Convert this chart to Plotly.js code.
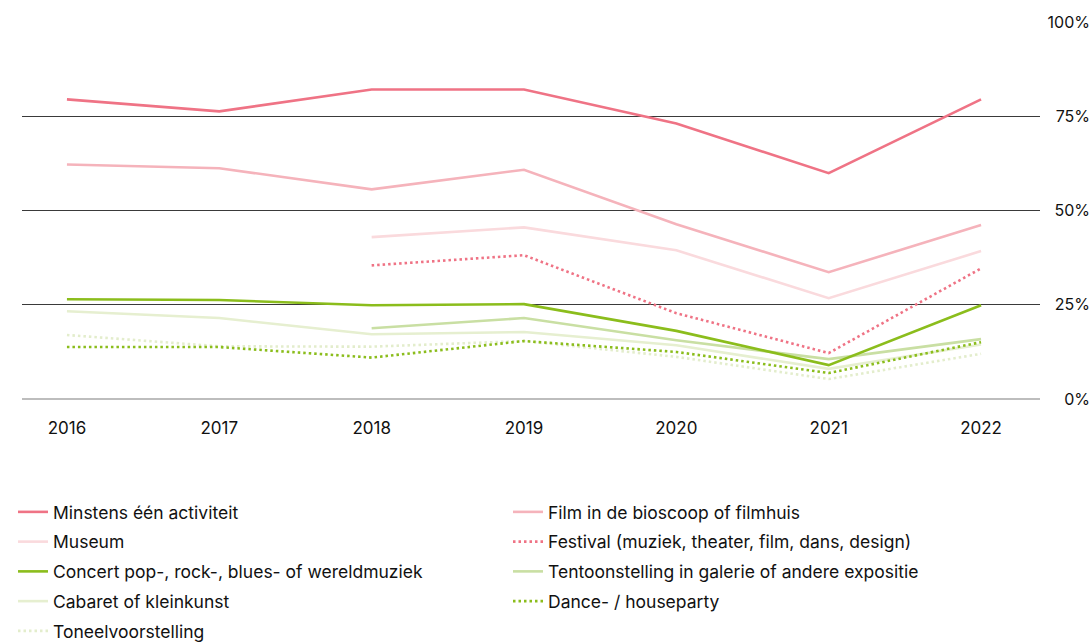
<!DOCTYPE html>
<html><head><meta charset="utf-8">
<script src="https://cdn.plot.ly/plotly-3.0.1.min.js"></script>
<style>html,body{margin:0;padding:0;background:#fff}#chart{width:1090px;height:644px}</style>
</head><body><div id="chart"></div>
<script>
const years = [2016, 2017, 2018, 2019, 2020, 2021, 2022];
const minstens = [79.6, 76.4, 82.2, 82.2, 73.2, 60.0, 79.6];
const film = [62.3, 61.3, 55.7, 60.9, 46.4, 33.7, 46.2];
const museum = [null, null, 43.0, 45.6, 39.5, 26.8, 39.3];
const festival = [null, null, 35.5, 38.2, 22.8, 12.2, 34.7];
const concert = [26.5, 26.3, 24.9, 25.2, 18.1, 9.0, 24.9];
const tentoon = [null, null, 18.8, 21.5, 15.6, 10.6, 15.9];
const cabaret = [23.3, 21.5, 17.2, 17.8, 14.3, 8.0, 14.5];
const dance = [13.8, 13.8, 11.0, 15.4, 12.5, 6.9, 15.1];
const toneel = [17.0, 14.0, 13.9, 15.4, 11.2, 5.3, 12.0];
const yTicks = [0, 25, 50, 75, 100];

const dotDash = '2.5px,3px';
function tr(name, y, color, dash, legend, rank){
  return {x: years, y: y, name: name, type: 'scatter', mode: 'lines',
    line: {color: color, width: 2.6, dash: dash || 'solid'},
    legend: legend, legendgroup: name, legendrank: rank, connectgaps: false, hoverinfo: 'skip'};
}
const data = [
  tr('Minstens één activiteit', minstens, '#ef7385', null, 'legend', 1),
  tr('Museum', museum, '#fadadd', null, 'legend', 2),
  tr('Concert pop-, rock-, blues- of wereldmuziek', concert, '#8bbd1c', null, 'legend', 3),
  tr('Cabaret of kleinkunst', cabaret, '#e6efd0', null, 'legend', 4),
  tr('Toneelvoorstelling', toneel, '#e3edcc', dotDash, 'legend', 5),
  tr('Film in de bioscoop of filmhuis', film, '#f5b3bb', null, 'legend2', 1),
  tr('Festival (muziek, theater, film, dans, design)', festival, '#ef7385', dotDash, 'legend2', 2),
  tr('Tentoonstelling in galerie of andere expositie', tentoon, '#c9dfa3', null, 'legend2', 3),
  tr('Dance- / houseparty', dance, '#8bbd1c', dotDash, 'legend2', 4)
];
// draw order: lighter lines underneath
const order = [4,3,7,8,2,1,6,5,0];
const plotData = order.map(i => data[i]);

const fontFam = 'Inter, "Noto Sans", sans-serif';
const legendCommon = {orientation: 'v', yanchor: 'top', xanchor: 'left', tracegroupgap: 4,
  xref: 'container', yref: 'container',
  font: {family: fontFam, size: 17.5, color: '#111'}, bgcolor: 'rgba(0,0,0,0)', itemwidth: 30, traceorder: 'grouped'};
const layout = {
  width: 1090, height: 644,
  margin: {l: 22, r: 0, t: 22, b: 245, autoexpand: false},
  paper_bgcolor: '#fff', plot_bgcolor: '#fff',
  font: {family: fontFam, color: '#111'},
  showlegend: true,
  xaxis: {domain: [0, 0.9532], range: [2015.705, 2022.387], tickvals: years, ticktext: years.map(String),
    showgrid: false, zeroline: false, showline: false, ticks: '', ticklabelstandoff: 17,
    tickfont: {family: fontFam, size: 17, color: '#111'}, fixedrange: true, automargin: false},
  yaxis: {range: [0, 100.15], tickvals: yTicks, ticktext: yTicks.map(v => v + '%'),
    side: 'left', anchor: 'free', position: 1, showgrid: true, gridcolor: '#3a3a3a', gridwidth: 1,
    zeroline: true, zerolinecolor: '#bdbdbd', zerolinewidth: 1.5, showline: false, ticks: '',
    ticklabelstandoff: 0, automargin: false,
    tickfont: {family: fontFam, size: 16, color: '#111'}, fixedrange: true},
  legend: Object.assign({x: 13 / 1090, y: 1 - 494 / 644}, legendCommon),
  legend2: Object.assign({x: 508 / 1090, y: 1 - 494 / 644}, legendCommon)
};
Plotly.newPlot('chart', plotData, layout, {displayModeBar: false, staticPlot: true});
</script></body></html>
